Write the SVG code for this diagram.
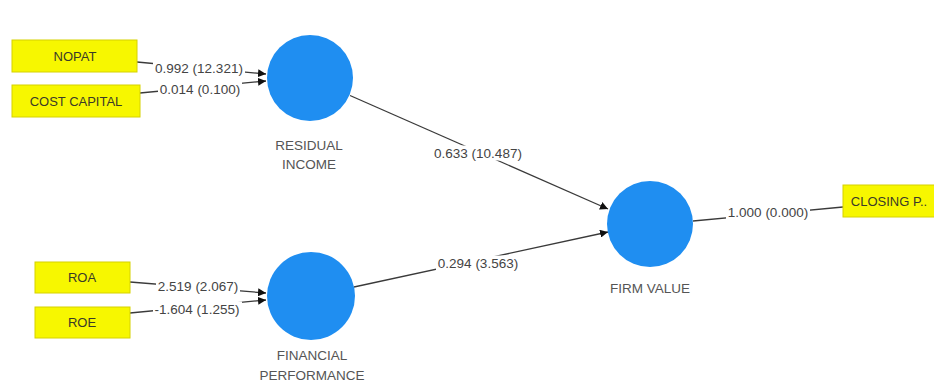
<svg xmlns="http://www.w3.org/2000/svg" width="934" height="387" viewBox="0 0 934 387">
  <style>
    .ind rect { fill: #f7f700; stroke: #d6d200; stroke-width: 1; }
    .ind text { font-family: "Liberation Sans", Arial, sans-serif; font-size: 13px; fill: #3a3a28; text-anchor: middle; }
    .lv circle { fill: #1f8ef1; }
    .lv text { font-family: "Liberation Sans", Arial, sans-serif; font-size: 13.5px; fill: #555; text-anchor: middle; }
    .edge line { stroke: #3a3a3a; stroke-width: 1.3; fill: none; }
    .edge .arr { marker-end: url(#head); }
    .edge rect { fill: #ffffff; }
    .edge text { font-family: "Liberation Sans", Arial, sans-serif; font-size: 13.5px; fill: #444; text-anchor: middle; }
  </style>
  <defs>
    <marker id="head" viewBox="0 0 10 10" refX="10" refY="5" markerWidth="8" markerHeight="8" markerUnits="userSpaceOnUse" orient="auto">
      <path d="M0,0 L10,5 L0,10 z" fill="#111"/>
    </marker>
  </defs>
  <rect width="934" height="387" fill="#ffffff"/>

  <!-- paths and loadings; each label sits on a white plate that breaks its line -->
  <g id="connectors" class="edge">
    <line class="arr" x1="137" y1="62" x2="266" y2="74"/>
    <line class="arr" x1="140" y1="93" x2="266" y2="81"/>
    <line class="arr" x1="130" y1="282" x2="266" y2="293"/>
    <line class="arr" x1="130" y1="313" x2="266" y2="300"/>
    <line class="arr" x1="350" y1="95.5" x2="608" y2="209"/>
    <line class="arr" x1="354" y1="287" x2="608" y2="232"/>
    <line x1="693" y1="221" x2="843" y2="207"/>

    <rect x="153" y="60.5" width="92" height="15"/>
    <text x="199" y="72.5">0.992 (12.321)</text>
    <rect x="158" y="81.5" width="84" height="15"/>
    <text x="200" y="93.5">0.014 (0.100)</text>
    <rect x="156" y="278.5" width="84" height="15"/>
    <text x="198" y="290.5">2.519 (2.067)</text>
    <rect x="153" y="301.5" width="89" height="15"/>
    <text x="197" y="313.5">-1.604 (1.255)</text>
    <rect x="432" y="145.5" width="92" height="15"/>
    <text x="478" y="157.5">0.633 (10.487)</text>
    <rect x="436" y="255.5" width="84" height="15"/>
    <text x="478" y="267.5">0.294 (3.563)</text>
    <rect x="726" y="204.5" width="84" height="15"/>
    <text x="768" y="216.5">1.000 (0.000)</text>
  </g>

  <!-- indicators -->
  <g id="nopat" class="ind">
    <rect x="12" y="40" width="125" height="32"/>
    <text x="75" y="60.5">NOPAT</text>
  </g>
  <g id="cost-capital" class="ind">
    <rect x="12" y="85" width="128" height="32"/>
    <text x="76" y="105.5">COST CAPITAL</text>
  </g>
  <g id="roa" class="ind">
    <rect x="35" y="262" width="95" height="31"/>
    <text x="82" y="282">ROA</text>
  </g>
  <g id="roe" class="ind">
    <rect x="35" y="307" width="95" height="31"/>
    <text x="82" y="327">ROE</text>
  </g>
  <g id="closing-price" class="ind">
    <rect x="843" y="185" width="95" height="32"/>
    <text x="889" y="205.5">CLOSING P..</text>
  </g>

  <!-- latent variables -->
  <g id="residual-income" class="lv">
    <circle cx="310" cy="78" r="43"/>
    <text x="309" y="149.5">RESIDUAL</text>
    <text x="309" y="168.5">INCOME</text>
  </g>
  <g id="financial-performance" class="lv">
    <circle cx="311" cy="296" r="44"/>
    <text x="312" y="359.5">FINANCIAL</text>
    <text x="312" y="379.5">PERFORMANCE</text>
  </g>
  <g id="firm-value" class="lv">
    <circle cx="650" cy="224" r="43"/>
    <text x="650" y="292.5">FIRM VALUE</text>
  </g>
</svg>
